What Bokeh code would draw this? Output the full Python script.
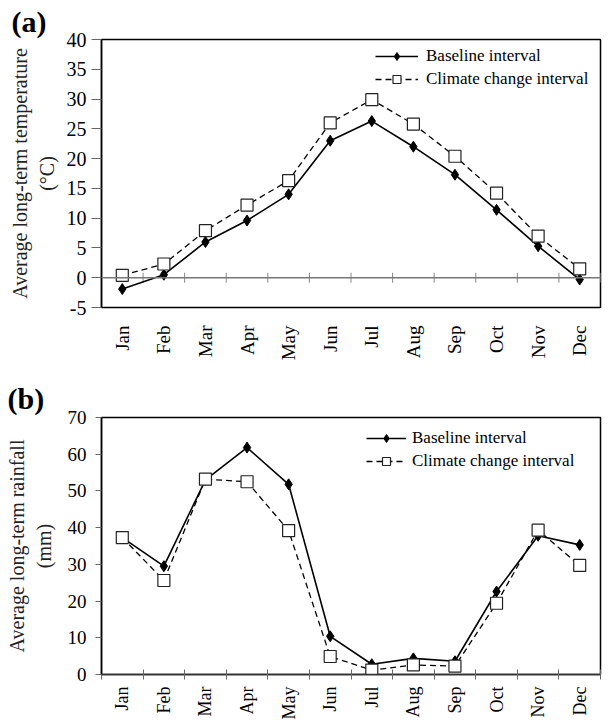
from bokeh.plotting import figure
from bokeh.layouts import column
from bokeh.models import Range1d, FixedTicker, Span, Legend, LegendItem
from bokeh.embed import file_html
from bokeh.resources import INLINE

# Monthly long-term averages: baseline vs. climate change interval
months = ["Jan", "Feb", "Mar", "Apr", "May", "Jun",
          "Jul", "Aug", "Sep", "Oct", "Nov", "Dec"]

temp_baseline = [-1.9, 0.5, 6.0, 9.6, 14.0, 23.0, 26.3, 22.0, 17.3, 11.4, 5.3, -0.3]
temp_climate = [0.4, 2.3, 7.9, 12.2, 16.3, 26.0, 29.9, 25.8, 20.4, 14.2, 7.0, 1.5]

rain_baseline = [37.3, 29.5, 53.0, 61.8, 51.8, 10.4, 2.8, 4.4, 3.6, 22.6, 37.8, 35.3]
rain_climate = [37.3, 25.6, 53.2, 52.5, 39.2, 4.9, 1.2, 2.6, 2.3, 19.4, 39.3, 29.7]

temp_ticks = [-5, 0, 5, 10, 15, 20, 25, 30, 35, 40]
rain_ticks = [0, 10, 20, 30, 40, 50, 60, 70]

FONT = "Liberation Serif"

xs = list(range(1, len(months) + 1))
bounds = [x - 0.5 for x in xs] + [xs[-1] + 0.5]


def make_panel(tag, ylabel, base, clim, yticks, height, borders, zero_line, cfg):
    top, bottom, left, right = borders
    p = figure(width=614, height=height, output_backend="svg", toolbar_location=None,
               x_range=Range1d(0.5, 12.5), y_range=Range1d(yticks[0], yticks[-1]),
               min_border_top=top, min_border_bottom=bottom,
               min_border_left=left, min_border_right=right)
    p.background_fill_color = "white"
    p.border_fill_color = "white"
    p.outline_line_color = "black"
    p.outline_line_width = 1.5
    p.xgrid.visible = False
    p.ygrid.visible = False

    # panel tag, pulled left over the axis area
    p.title.text = tag
    p.title.align = "left"
    p.title.offset = cfg["tag_offset"]
    p.title.standoff = cfg["tag_standoff"]
    p.title.text_font = FONT
    p.title.text_font_size = "30px"
    p.title.text_font_style = "bold"
    p.title.text_color = "black"

    # month axis: names at month centres, ticks on month boundaries
    xa = p.xaxis[0]
    xa.ticker = FixedTicker(ticks=xs, minor_ticks=bounds)
    xa.major_label_overrides = {x: m for x, m in zip(xs, months)}
    xa.major_label_orientation = 1.5708
    xa.major_label_text_font = FONT
    xa.major_label_text_font_size = cfg["month_size"]
    xa.major_label_text_color = "black"
    xa.major_tick_line_color = None
    xa.major_tick_in = 0
    xa.major_tick_out = 0
    xa.major_label_standoff = cfg["month_standoff"]
    if zero_line:
        xa.axis_line_color = None
        xa.minor_tick_line_color = None
        xa.minor_tick_in = 0
        xa.minor_tick_out = 0
    else:
        xa.axis_line_color = "#333333"
        xa.axis_line_width = 1.5
        xa.minor_tick_line_color = "#666666"
        xa.minor_tick_in = 5
        xa.minor_tick_out = 5

    ya = p.yaxis[0]
    ya.ticker = FixedTicker(ticks=yticks, minor_ticks=[])
    ya.major_label_overrides = {t: str(t) for t in yticks}
    ya.axis_line_color = "black"
    ya.axis_line_width = 1.5
    ya.major_tick_in = 0
    ya.major_tick_out = cfg["ytick_out"]
    ya.major_tick_line_color = "#666666"
    ya.major_label_text_font = FONT
    ya.major_label_text_font_size = cfg["ytick_size"]
    ya.major_label_text_color = "black"
    ya.major_label_standoff = cfg["ytick_standoff"]
    ya.axis_label = ylabel
    ya.axis_label_text_font = FONT
    ya.axis_label_text_font_size = "20px"
    ya.axis_label_text_font_style = "normal"
    ya.axis_label_text_color = "#222222"
    ya.axis_label_standoff = cfg["ylabel_standoff"]

    if zero_line:
        p.add_layout(Span(location=0, dimension="width", line_color="#777777", line_width=1.5))
        half = 5 / cfg["px_per_unit"]
        p.segment(x0=bounds, x1=bounds, y0=[-half] * len(bounds), y1=[half] * len(bounds),
                  line_color="#888888", line_width=1)

    r1 = p.line(xs, base, line_color="black", line_width=1.6)
    s1 = p.scatter(xs, base, marker="diamond", size=11, fill_color="black", line_color="black")
    r2 = p.line(xs, clim, line_color="black", line_width=1.3, line_dash="6 4")
    s2 = p.scatter(xs, clim, marker="square", size=12, fill_color="white",
                   line_color="#222222", line_width=1.2)

    legend = Legend(items=[LegendItem(label="Baseline interval", renderers=[r1, s1]),
                           LegendItem(label="Climate change interval", renderers=[r2, s2])],
                    location=cfg["legend_loc"])
    legend.background_fill_alpha = 0
    legend.border_line_color = None
    legend.label_text_font = FONT
    legend.label_text_font_size = "17px"
    legend.label_text_color = "black"
    legend.glyph_width = cfg["glyph_width"]
    legend.glyph_height = 20
    legend.label_height = 20
    legend.spacing = 3
    legend.padding = 4
    legend.margin = 0
    legend.label_standoff = cfg["legend_standoff"]
    p.add_layout(legend)
    return p


cfg_a = dict(month_size="19px", month_standoff=18, ytick_out=10, ytick_size="20px",
             ytick_standoff=5, ylabel_standoff=6, px_per_unit=268 / 45,
             legend_loc=(274, 218), glyph_width=43, legend_standoff=8,
             tag_offset=-90, tag_standoff=4)
cfg_b = dict(month_size="18px", month_standoff=7, ytick_out=6, ytick_size="19px",
             ytick_standoff=9, ylabel_standoff=10, px_per_unit=257 / 70,
             legend_loc=(265, 203), glyph_width=40, legend_standoff=6,
             tag_offset=-94, tag_standoff=5)

pa = make_panel("(a)", "Average long-term temperature\n(°C)", temp_baseline, temp_climate,
                temp_ticks, 377, (39, 70, 97, 2), True, cfg_a)
pb = make_panel("(b)", "Average long-term rainfall\n(mm)", rain_baseline, rain_climate,
                rain_ticks, 346, (40, 49, 101, 14), False, cfg_b)

layout = column(pa, pb, spacing=0)
open("out.html", "w").write(file_html(layout, INLINE))
